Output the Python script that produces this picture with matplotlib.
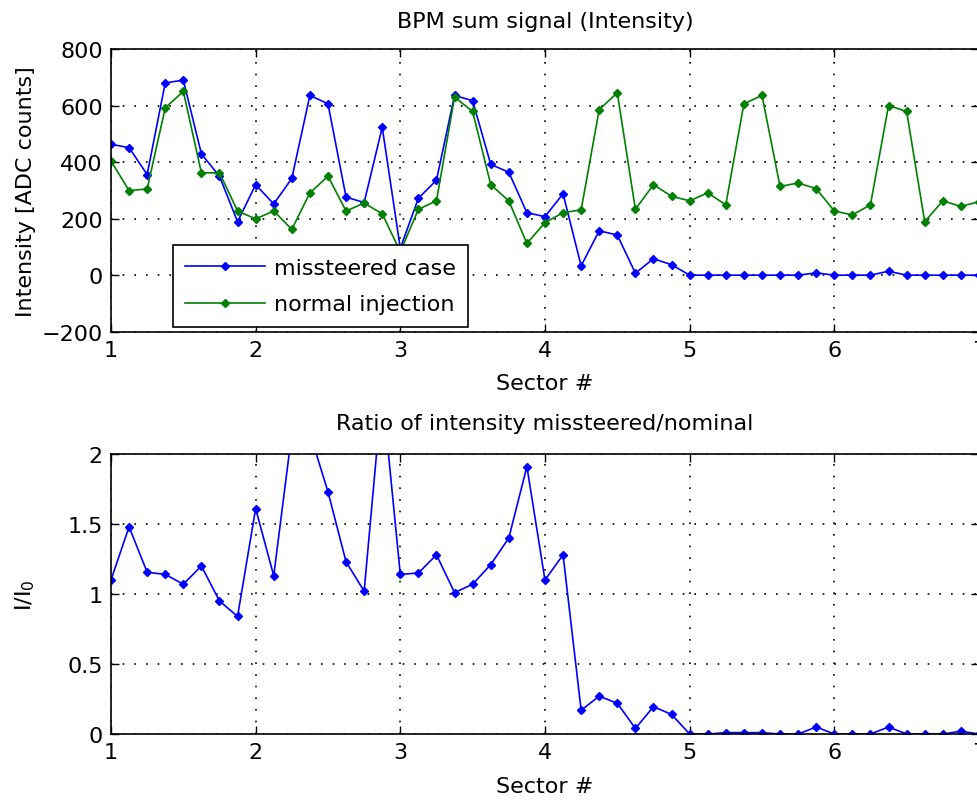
import numpy as np
import matplotlib.pyplot as plt

# sector positions: 8 BPMs per sector, sectors 1..7
sector = np.arange(49) / 8.0 + 1

missteered = [463, 451, 356, 680, 690, 429, 350, 189,
              320, 252, 342, 636, 606, 276, 257, 523,
              95, 272, 336, 636, 617, 392, 364, 221,
              207, 288, 33, 157, 142, 7, 58, 37,
              0, 0, 0, 0, 0, 0, 0, 8,
              0, 0, 0, 14, 0, 0, 0, 0, 0]
normal = [404, 299, 305, 592, 650, 362, 362, 227,
          199, 227, 162, 291, 350, 227, 255, 217,
          83, 233, 263, 630, 579, 320, 263, 112,
          186, 221, 231, 586, 645, 233, 320, 279,
          263, 291, 249, 606, 636, 314, 326, 306,
          227, 213, 249, 600, 579, 189, 263, 243, 260]
ratio = [1.10, 1.48, 1.155, 1.14, 1.07, 1.20, 0.95, 0.84,
         1.61, 1.13, 2.15, 2.15, 1.73, 1.23, 1.02, 2.45,
         1.14, 1.15, 1.28, 1.01, 1.07, 1.21, 1.40, 1.91,
         1.10, 1.28, 0.17, 0.27, 0.22, 0.04, 0.195, 0.14,
         0, 0, 0.01, 0.01, 0.01, 0, 0, 0.05,
         0, 0, 0, 0.05, 0, 0, 0, 0.02, 0]

plt.rcParams['font.family'] = 'DejaVu Sans'
plt.rcParams['font.size'] = 16

fig = plt.figure(figsize=(9.77, 8.04), dpi=100)
ax1 = fig.add_axes([0.1136, 0.5862, 0.8884, 0.3516])
ax2 = fig.add_axes([0.1136, 0.0858, 0.8884, 0.3483])


def style(ax):
    ax.set_xlim(1, 7)
    ax.set_xticks(range(1, 8))
    ax.grid(True, color='black', linestyle=(0, (1, 6)), linewidth=1.2)
    ax.tick_params(direction='in', top=True, right=True, length=6, width=1, pad=6)
    for s in ax.spines.values():
        s.set_linewidth(1.2)


ax1.plot(sector, missteered, '-D', color='#0000ff', markersize=4.5, linewidth=1.2, label='missteered case')
ax1.plot(sector, normal, '-D', color='#008000', markersize=4.5, linewidth=1.2, label='normal injection')
style(ax1)
ax1.set_ylim(-200, 800)
ax1.set_yticks(range(-200, 801, 200))
ax1.set_title('BPM sum signal (Intensity)', fontsize=16, pad=16)
ax1.set_xlabel('Sector #', labelpad=9)
ax1.set_ylabel('Intensity [ADC counts]', labelpad=4)
leg = ax1.legend(loc='lower left', bbox_to_anchor=(0.071, 0.018), fancybox=False,
                 framealpha=1, edgecolor='black', borderaxespad=0, handlelength=3.6,
                 borderpad=0.55, labelspacing=0.75, handletextpad=0.4)
leg.get_frame().set_linewidth(1.2)

ax2.plot(sector, ratio, '-D', color='#0000ff', markersize=4.5, linewidth=1.2)
style(ax2)
ax2.set_ylim(0, 2)
ax2.set_yticks([0, 0.5, 1, 1.5, 2])
ax2.set_yticklabels(['0', '0.5', '1', '1.5', '2'])
ax2.set_title('Ratio of intensity missteered/nominal', fontsize=16, pad=18)
ax2.set_xlabel('Sector #', labelpad=10)
ax2.set_ylabel(r'I/I$_0$', labelpad=22)

fig.savefig('out.png', dpi=100)
